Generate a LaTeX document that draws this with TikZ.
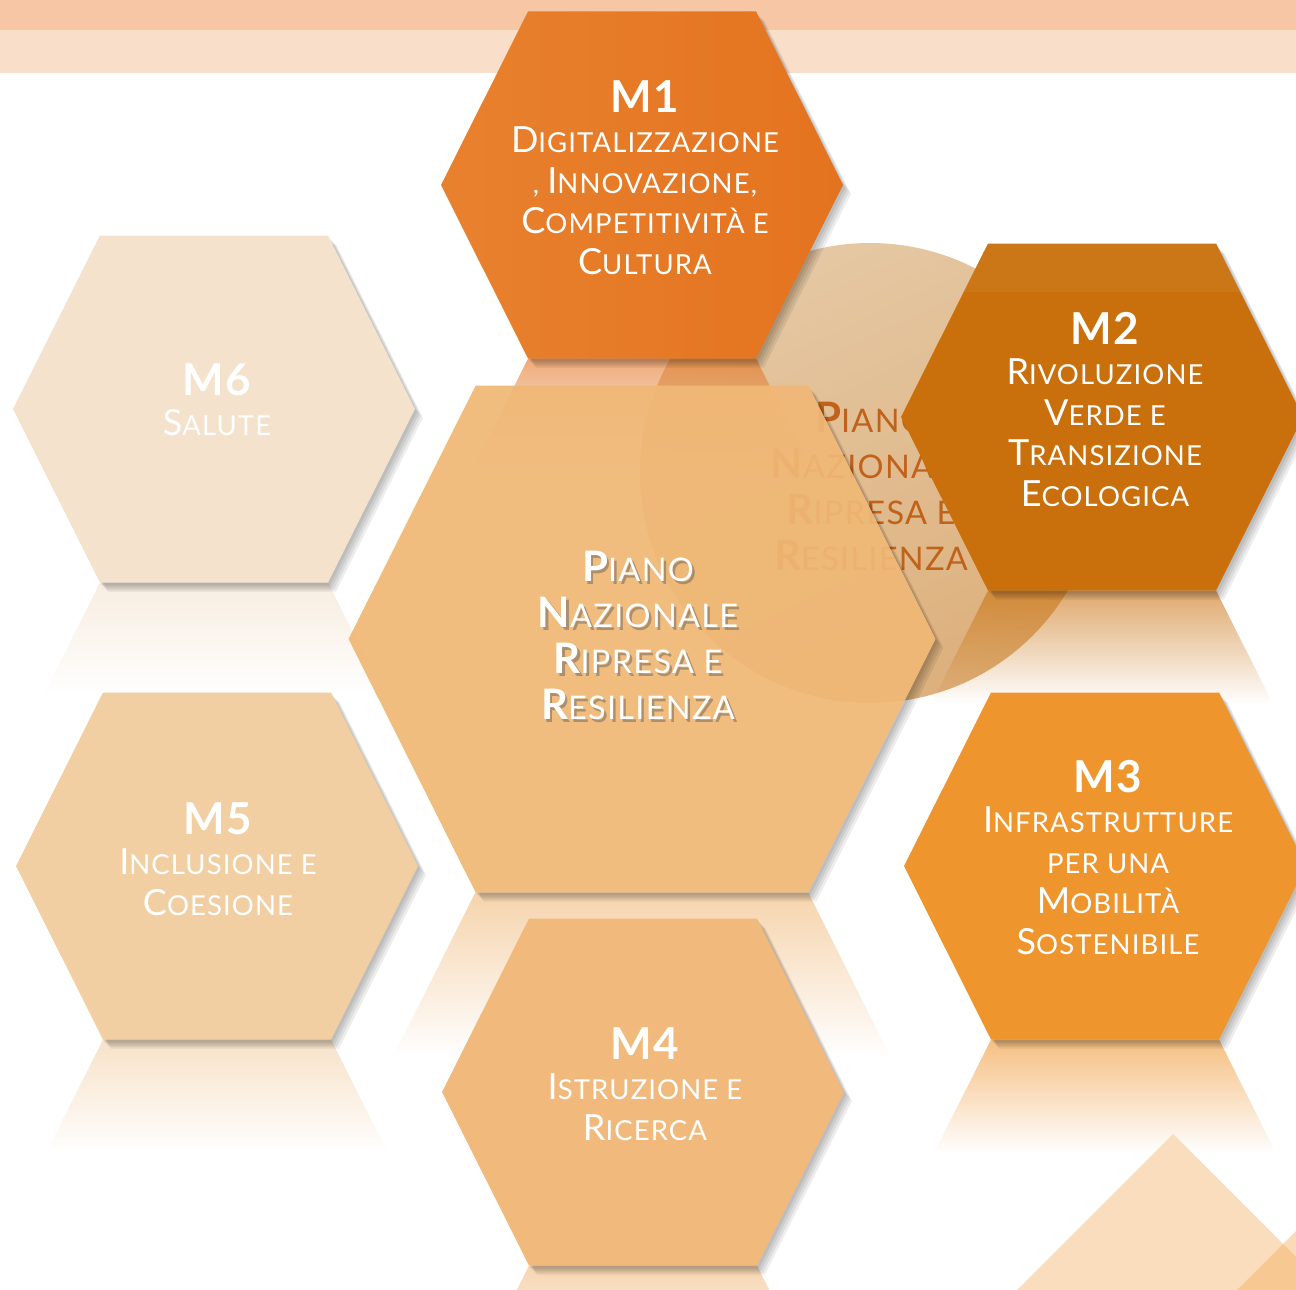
\documentclass[tikz,border=0pt]{standalone}
\usepackage{fontspec}
\usetikzlibrary{fadings}
\setmainfont{Lato}[LetterSpace=4]
\definecolor{bandA}{HTML}{F7C6A4}
\definecolor{bandB}{HTML}{F9DFC9}
\definecolor{m1col}{HTML}{E4731F}
\definecolor{m1lt}{HTML}{E8812E}
\definecolor{m2col}{HTML}{C9700C}
\definecolor{m3col}{HTML}{EF952E}
\definecolor{m4col}{HTML}{F1BA7C}
\definecolor{m5col}{HTML}{F2CFA3}
\definecolor{m6col}{HTML}{F4E2CC}
\definecolor{cencol}{HTML}{F0B876}
\definecolor{circA}{HTML}{E5C8A4}
\definecolor{circB}{HTML}{DDB07C}
\definecolor{circtxt}{HTML}{C0621A}
\definecolor{triA}{HTML}{FADDBC}
\definecolor{triB}{HTML}{F5B060}
\newcommand\hexpath[3]{(#1-201*#3,#2) -- (#1-114*#3,#2-173.5*#3) -- (#1+114*#3,#2-173.5*#3) -- (#1+201*#3,#2) -- (#1+114*#3,#2+173.5*#3) -- (#1-114*#3,#2+173.5*#3) -- cycle}
\newcommand\hexshadow[3]{\foreach \d in {2,4,6,8}{\fill[black,opacity=0.07,shift={(\d,\d+1)}] \hexpath{#1}{#2}{#3};}}
\newcommand\hexrefl[4]{\fill[#4, fill opacity=0.6, path fading=south] (#1-114*#3,#2+173.5*#3) -- (#1+114*#3,#2+173.5*#3) -- (#1+114*#3+56.6*#3,#2+286.5*#3) -- (#1-114*#3-56.6*#3,#2+286.5*#3) -- cycle;}
\newcommand\Sc[2]{{\fontsize{36}{40.5}\selectfont #1}{\fontsize{27.5}{40.5}\selectfont #2}}
\newcommand\sm[1]{{\fontsize{27.5}{40.5}\selectfont #1}}
\newcommand\Mtitle[1]{{\fontsize{44}{44}\selectfont\bfseries #1}}
\newcommand\Cc[2]{{\fontsize{42}{46}\selectfont\bfseries #1}{\fontsize{32.5}{46}\selectfont #2}}
\tikzset{
  mtxt/.style={text=white, align=center, inner sep=0pt, anchor=north, font=\fontsize{27.5}{40.5}\selectfont},
  ctxt/.style={align=center, inner sep=0pt, anchor=north, font=\fontsize{32.5}{46}\selectfont},
}
\begin{document}
\begin{tikzpicture}[x=1pt,y=-1pt]
\useasboundingbox (0,0) rectangle (1296,1290);
\fill[white] (0,0) rectangle (1296,1290);
% top bands
\fill[bandA] (0,0) rectangle (1296,30);
\fill[bandB] (0,30) rectangle (1296,73);
% background circle with faded title
\shade[top color=circA, bottom color=circB, shading angle=25] (870,473) circle[radius=230];
\node[ctxt, text=circtxt] (circtext) at (871,402) {\Cc{P}{IANO}\\ \Cc{N}{AZIONALE}\\ \Cc{R}{IPRESA E}\\ \Cc{R}{ESILIENZA}};
% reflections
\hexrefl{214}{409}{1}{m6col}
\hexrefl{217}{866}{1}{m5col}
\hexrefl{642}{185}{1}{m1col}
\hexrefl{1102}{417}{1}{m2col}
\hexrefl{1105}{866}{1}{m3col}
\hexrefl{643}{1092}{1}{m4col}
\hexrefl{642}{639}{1.46}{cencol}
% bottom-right triangles
\fill[triA] (1173,1134) -- (1329,1290) -- (1017,1290) -- cycle;
\fill[triB, opacity=0.45] (1237,1290) -- (1360,1167) -- (1360,1290) -- cycle;
% hexagons
\hexshadow{214}{409}{1}
\fill[m6col] \hexpath{214}{409}{1};
\hexshadow{217}{866}{1}
\fill[m5col] \hexpath{217}{866}{1};
\hexshadow{643}{1092}{1}
\fill[m4col] \hexpath{643}{1092}{1};
\hexshadow{642}{185}{1}
\shade[left color=m1lt, right color=m1col] \hexpath{642}{185}{1};
\begin{scope}[even odd rule]
  \clip (-20,-20) rectangle (1320,1320) \hexpath{642}{639}{1.46};
  \hexshadow{642}{639}{1.46}
\end{scope}
\fill[cencol, fill opacity=0.93] \hexpath{642}{639}{1.46};
\hexshadow{1102}{417}{1}
\fill[m2col] \hexpath{1102}{417}{1};
\begin{scope}
  \clip \hexpath{1102}{417}{1};
  \fill[white, opacity=0.05] (880,240) rectangle (1310,292);
\end{scope}
\hexshadow{1105}{866}{1}
\fill[m3col] \hexpath{1105}{866}{1};
% texts
\node[mtxt] (m1text) at (645,80) {\Mtitle{M1}\\ \Sc{D}{IGITALIZZAZIONE}\\ \sm{,} \Sc{I}{NNOVAZIONE,}\\ \Sc{C}{OMPETITIVITÀ E}\\ \Sc{C}{ULTURA}};
\node[mtxt] (m2text) at (1105,312) {\Mtitle{M2}\\ \Sc{R}{IVOLUZIONE}\\ \Sc{V}{ERDE E}\\ \Sc{T}{RANSIZIONE}\\ \Sc{E}{COLOGICA}};
\node[mtxt] (m3text) at (1108,760) {\Mtitle{M3}\\ \Sc{I}{NFRASTRUTTURE}\\ \sm{PER UNA}\\ \Sc{M}{OBILITÀ}\\ \Sc{S}{OSTENIBILE}};
\node[mtxt] (m4text) at (645,1027) {\Mtitle{M4}\\ \Sc{I}{STRUZIONE E}\\ \Sc{R}{ICERCA}};
\node[mtxt] (m5text) at (218,802) {\Mtitle{M5}\\ \Sc{I}{NCLUSIONE E}\\ \Sc{C}{OESIONE}};
\node[mtxt] (m6text) at (217,363) {\Mtitle{M6}\\ \Sc{S}{ALUTE}};
\node[ctxt, text=black!65, opacity=0.45] (pnrrshadow) at (640.5,553.5) {\Cc{P}{IANO}\\ \Cc{N}{AZIONALE}\\ \Cc{R}{IPRESA E}\\ \Cc{R}{ESILIENZA}};
\node[ctxt, text=white] (pnrr) at (638,551) {\Cc{P}{IANO}\\ \Cc{N}{AZIONALE}\\ \Cc{R}{IPRESA E}\\ \Cc{R}{ESILIENZA}};
\end{tikzpicture}
\end{document}
